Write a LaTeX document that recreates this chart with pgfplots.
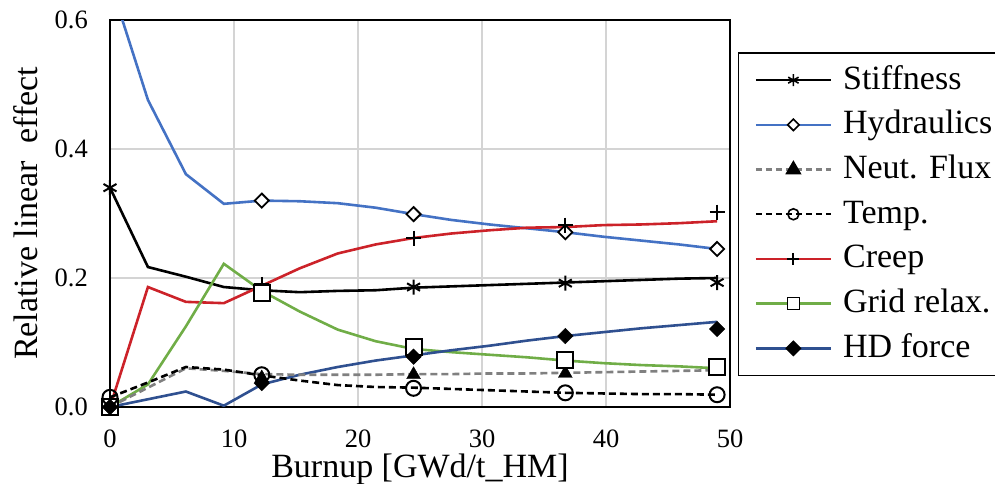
\documentclass[border=0pt]{standalone}
\usepackage{fontspec}
\setmainfont{Liberation Serif}
\usepackage{pgfplots}
\pgfplotsset{compat=1.18}

\definecolor{hydblue}{HTML}{4472C4}
\definecolor{hdblue}{HTML}{2F5090}
\definecolor{creepred}{HTML}{CC2229}
\definecolor{gridgreen}{HTML}{70AD47}
\definecolor{fluxgray}{HTML}{808080}
\definecolor{gridline}{HTML}{D4D4D4}

\begin{document}
\begin{tikzpicture}
\begin{axis}[
    scale only axis,
    width=620pt, height=387pt,
    xmin=0, xmax=50, ymin=0, ymax=0.6,
    xtick={0,10,...,50},
    ytick={0,0.2,0.4,0.6},
    major tick length=0pt,
    grid=major,
    major grid style={gridline, line width=1.6pt},
    axis line style={black, line width=1.6pt},
    /pgf/number format/assume math mode=true,
    ticklabel style={font=\fontsize{26.5}{30}\selectfont},
    yticklabel style={/pgf/number format/fixed, /pgf/number format/fixed zerofill,
        /pgf/number format/precision=1, inner xsep=0pt, xshift=-22pt},
    xticklabel style={inner ysep=0pt, yshift=-23pt},
    xlabel={Burnup [GWd/t\_HM]},
    ylabel={Relative linear\ \ effect},
    every axis x label/.style={at={(axis description cs:0.5,-0.181)}, anchor=base,
        inner sep=0pt, font=\fontsize{34}{40}\selectfont},
    every axis y label/.style={at={(axis description cs:-0.1177,0.5)}, rotate=90, anchor=base,
        inner sep=0pt, font=\fontsize{34}{40}\selectfont},
    legend cell align=left,
    legend style={at={(axis description cs:1.0129,0.917)}, anchor=north west,
        draw=black, line width=1.4pt, inner sep=5pt,
        font=\fontsize{34}{40}\selectfont,
        nodes={inner xsep=0pt, inner ysep=5.35pt, text height=26pt, text depth=8pt},
        column sep=0pt},
    legend image code/.code={
        \path (0pt,0pt) (97pt,0pt);
        \draw[mark repeat=2, mark phase=2, #1] plot coordinates {(11pt,0pt) (48.5pt,0pt) (86pt,0pt)};
    },
]
% legend entries
\addlegendimage{black, line width=2.4pt, mark=asterisk, mark size=6pt, mark options={solid, line width=1.6pt}}
\addlegendentry{Stiffness}
\addlegendimage{hydblue, line width=2.4pt, mark=square*, mark size=4pt, mark options={solid, rotate=45, fill=white, draw=black, line width=1.6pt}}
\addlegendentry{Hydraulics}
\addlegendimage{fluxgray, line width=2.4pt, dash pattern=on 6pt off 4pt, mark=triangle*, mark size=7pt, mark options={solid, fill=black, draw=black}}
\addlegendentry{Neut. Flux}
\addlegendimage{black, line width=2.4pt, dash pattern=on 6pt off 4pt, mark=o, mark size=5.5pt, mark options={solid, fill=white, line width=1.6pt}}
\addlegendentry{Temp.}
\addlegendimage{creepred, line width=2.4pt, mark=+, mark size=6pt, mark options={solid, draw=black, line width=1.8pt}}
\addlegendentry{Creep}
\addlegendimage{gridgreen, line width=2.4pt, mark=square*, mark size=6pt, mark options={solid, fill=white, draw=black, line width=1.6pt}}
\addlegendentry{Grid relax.}
\addlegendimage{hdblue, line width=2.4pt, mark=square*, mark size=4.5pt, mark options={solid, rotate=45, fill=black, draw=black}}
\addlegendentry{HD force}

% lines
\addplot[forget plot, hydblue, line width=2.6pt] coordinates {
(0,0.66) (3.06,0.476) (6.12,0.361) (9.18,0.315) (12.24,0.320) (15.3,0.319) (18.36,0.316)
(21.42,0.309) (24.48,0.299) (27.54,0.290) (30.6,0.283) (33.66,0.277) (36.72,0.271)
(39.78,0.264) (42.84,0.258) (45.9,0.252) (48.96,0.245)};
\addplot[forget plot, black, line width=2.6pt] coordinates {
(0,0.340) (3.06,0.217) (6.12,0.202) (9.18,0.186) (12.24,0.181) (15.3,0.178) (18.36,0.180)
(21.42,0.181) (24.48,0.185) (27.54,0.187) (30.6,0.189) (33.66,0.191) (36.72,0.193)
(39.78,0.195) (42.84,0.197) (45.9,0.199) (48.96,0.200)};
\addplot[forget plot, creepred, line width=2.6pt] coordinates {
(0,0) (3.06,0.186) (6.12,0.163) (9.18,0.161) (12.24,0.188) (15.3,0.215) (18.36,0.238)
(21.42,0.252) (24.48,0.262) (27.54,0.269) (30.6,0.274) (33.66,0.278) (36.72,0.279)
(39.78,0.282) (42.84,0.283) (45.9,0.285) (48.96,0.288)};
\addplot[forget plot, gridgreen, line width=2.6pt] coordinates {
(0,0) (3.06,0.035) (6.12,0.125) (9.18,0.222) (12.24,0.180) (15.3,0.148) (18.36,0.120)
(21.42,0.102) (24.48,0.090) (27.54,0.085) (30.6,0.081) (33.66,0.077) (36.72,0.072)
(39.78,0.068) (42.84,0.065) (45.9,0.063) (48.96,0.060)};
\addplot[forget plot, hdblue, line width=2.6pt] coordinates {
(0,0) (3.06,0.012) (6.12,0.024) (9.18,0.002) (12.24,0.035) (15.3,0.050) (18.36,0.062)
(21.42,0.072) (24.48,0.080) (27.54,0.088) (30.6,0.095) (33.66,0.103) (36.72,0.110)
(39.78,0.116) (42.84,0.122) (45.9,0.127) (48.96,0.132)};
\addplot[forget plot, fluxgray, line width=2.6pt, dash pattern=on 7pt off 4pt] coordinates {
(0,0) (3.06,0.030) (6.12,0.060) (9.18,0.056) (12.24,0.051) (15.3,0.050) (18.36,0.050)
(21.42,0.050) (24.48,0.051) (27.54,0.051) (30.6,0.052) (33.66,0.052) (36.72,0.053)
(39.78,0.054) (42.84,0.055) (45.9,0.056) (48.96,0.057)};
\addplot[forget plot, black, line width=2.6pt, dash pattern=on 7pt off 4pt] coordinates {
(0,0.015) (3.06,0.038) (6.12,0.062) (9.18,0.058) (12.24,0.049) (15.3,0.041) (18.36,0.034)
(21.42,0.031) (24.48,0.030) (27.54,0.028) (30.6,0.026) (33.66,0.024) (36.72,0.022)
(39.78,0.021) (42.84,0.020) (45.9,0.020) (48.96,0.019)};

% markers
\addplot[forget plot, only marks, mark=asterisk, mark size=7.5pt, mark options={black, line width=2pt}] coordinates {
(0,0.340) (12.24,0.181) (24.48,0.186) (36.72,0.192) (48.96,0.193)};
\addplot[forget plot, only marks, mark=square*, mark size=5pt, mark options={rotate=45, fill=white, draw=black, line width=1.8pt}] coordinates {
(12.24,0.320) (24.48,0.299) (36.72,0.271) (48.96,0.245)};
\addplot[forget plot, only marks, mark=+, mark size=7.5pt, mark options={black, line width=2pt}] coordinates {
(0,0) (12.24,0.190) (24.48,0.262) (36.72,0.282) (48.96,0.302)};
\addplot[forget plot, only marks, mark=triangle*, mark size=8pt, mark options={fill=black, draw=black}] coordinates {
(0,0.002) (12.24,0.045) (24.48,0.050) (36.72,0.052) (48.96,0.055)};
\addplot[forget plot, only marks, mark=square*, mark size=8pt, mark options={fill=white, draw=black, line width=2pt}] coordinates {
(0,0) (12.24,0.177) (24.48,0.093) (36.72,0.073) (48.96,0.062)};
\addplot[forget plot, only marks, mark=square*, mark size=5.5pt, mark options={rotate=45, fill=black, draw=black}] coordinates {
(0,0) (12.24,0.037) (24.48,0.078) (36.72,0.110) (48.96,0.121)};
\addplot[forget plot, only marks, mark=o, mark size=7.5pt, mark options={fill=white, draw=black, line width=2pt}] coordinates {
(0,0.015) (12.24,0.050) (24.48,0.029) (36.72,0.022) (48.96,0.019)};
\end{axis}
\pgfresetboundingbox
\path (-110pt,-77pt) rectangle (885pt,407pt);
\end{tikzpicture}
\end{document}
